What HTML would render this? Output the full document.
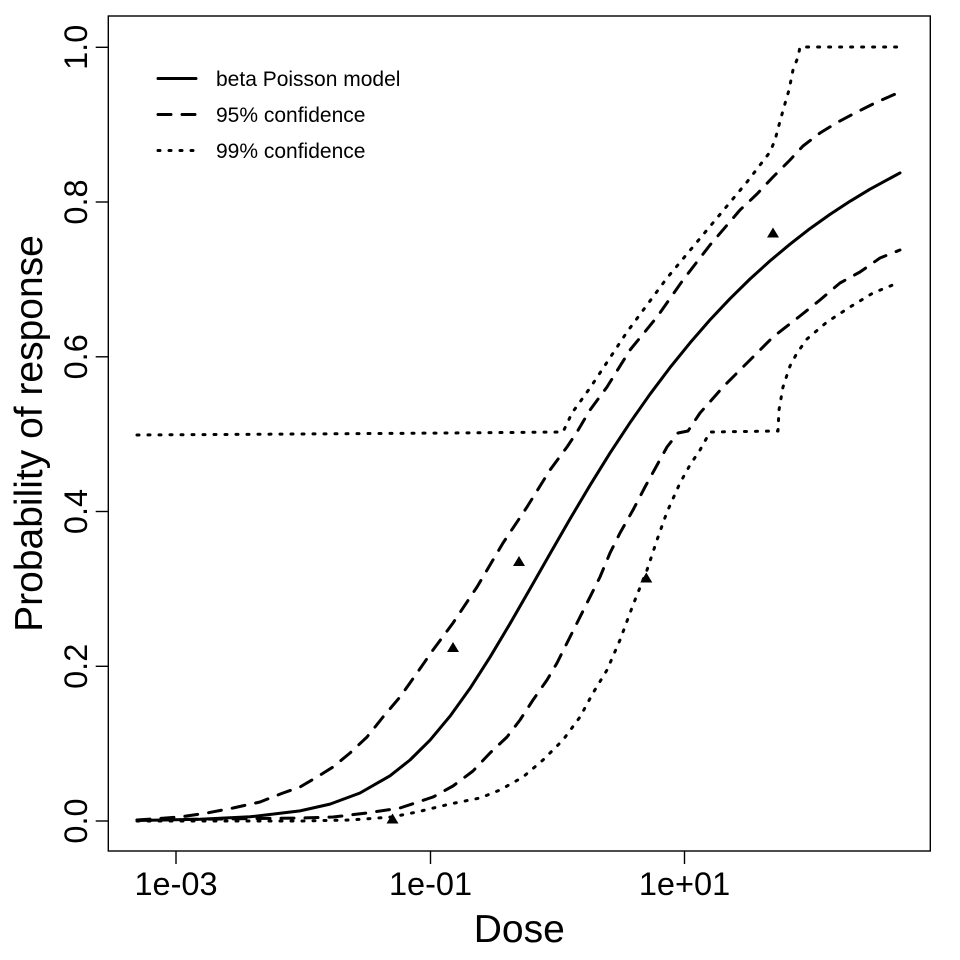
<!DOCTYPE html>
<html>
<head>
<meta charset="utf-8">
<style>
html,body{margin:0;padding:0;background:#fff;}
svg{display:block;}
text{font-family:"Liberation Sans", Arial, sans-serif;fill:#000;}
</style>
</head>
<body>
<svg width="960" height="960" viewBox="0 0 960 960" xmlns="http://www.w3.org/2000/svg">
<rect x="0" y="0" width="960" height="960" fill="#fff"/>
<!-- plot box -->
<rect x="108.3" y="16" width="822" height="835" fill="none" stroke="#000" stroke-width="1.4"/>

<!-- y ticks -->
<g stroke="#000" stroke-width="1.4">
<line x1="95.7" y1="821" x2="108.3" y2="821"/>
<line x1="95.7" y1="666.3" x2="108.3" y2="666.3"/>
<line x1="95.7" y1="511.5" x2="108.3" y2="511.5"/>
<line x1="95.7" y1="356.8" x2="108.3" y2="356.8"/>
<line x1="95.7" y1="202" x2="108.3" y2="202"/>
<line x1="95.7" y1="47.3" x2="108.3" y2="47.3"/>
<!-- x ticks -->
<line x1="176" y1="851" x2="176" y2="864"/>
<line x1="430.5" y1="851" x2="430.5" y2="864"/>
<line x1="684.5" y1="851" x2="684.5" y2="864"/>
</g>

<!-- y tick labels -->
<g font-size="32.5" text-anchor="middle">
<text transform="translate(87,821) rotate(-90)">0.0</text>
<text transform="translate(87,666.3) rotate(-90)">0.2</text>
<text transform="translate(87,511.5) rotate(-90)">0.4</text>
<text transform="translate(87,356.8) rotate(-90)">0.6</text>
<text transform="translate(87,202) rotate(-90)">0.8</text>
<text transform="translate(87,47.3) rotate(-90)">1.0</text>
</g>
<!-- x tick labels -->
<g font-size="32.5" text-anchor="middle">
<text x="176" y="895">1e-03</text>
<text x="430.5" y="895">1e-01</text>
<text x="684.5" y="895">1e+01</text>
</g>

<!-- axis titles -->
<text x="519.3" y="942" font-size="39" text-anchor="middle">Dose</text>
<text transform="translate(42,433.5) rotate(-90)" font-size="39" text-anchor="middle">Probability of response</text>

<!-- solid beta Poisson curve -->
<polyline fill="none" stroke="#000" stroke-width="3" stroke-linejoin="round" stroke-linecap="round"
points="137,820.5 200,819.3 250,816.8 300,810.9 330,804.1 360,793 390,775.8 410,760 430,740.2 450,716.2 470,688.4 490,657.2 510,623.7 530,588.9 550,553.7 570,519 590,485.3 610,453.1 630,422.7 650,394.2 670,367.6 690,342.9 710,319.9 730,298.7 750,279 770,260.9 790,244.2 810,228.6 830,214.4 850,201.3 870,189.2 900,172.9"/>

<!-- upper 95% dashed -->
<polyline fill="none" stroke="#000" stroke-width="3" stroke-linejoin="round" stroke-linecap="round" stroke-dasharray="13 11"
points="137,820 180,817 207,813 233,808 260,802 283,793 300,787 317,777 333,767 350,753 367,737 383,717 400,697 417,673 433,650 453,623 477,587 503,543 527,507 550,470 567,447 577,432 590,410 607,387 630,350 657,317 683,280 710,245 740,210 757,194 773,177 790,160 803,146 820,133 838,122 857,112 877,102 900,92"/>

<!-- lower 95% dashed -->
<polyline fill="none" stroke="#000" stroke-width="3" stroke-linejoin="round" stroke-linecap="round" stroke-dasharray="13 11"
points="137,820 300,818 333,817 367,813 400,808 433,797 453,786 473,771 490,753 507,737 520,720 533,700 547,680 557,663 567,643 577,623 587,603 600,577 610,553 620,533 633,510 645,487 667,447 678,433 688,431 700,413 723,387 747,363 773,337 800,316 820,300 840,283 860,272 880,258 900,250"/>

<!-- upper 99% dotted -->
<polyline fill="none" stroke="#000" stroke-width="3" stroke-linejoin="round" stroke-linecap="round" stroke-dasharray="2 9"
points="137,435 300,434 450,433 563,432 572,413 590,388 627,332 667,278 707,230 747,182 770,152 775,140 779,125 784,107 789,90 793,70 798,57 800,47 900,47"/>

<!-- lower 99% dotted -->
<polyline fill="none" stroke="#000" stroke-width="3" stroke-linejoin="round" stroke-linecap="round" stroke-dasharray="2 9"
points="137,821 300,821 350,820 392,817 417,812 450,804 480,798 500,790 523,777 543,760 563,740 580,717 593,693 607,670 620,640 633,605 647,570 657,540 667,512 680,483 690,465 700,450 710,432 778,431 779,410 783,387 790,366 797,353 807,339 827,322 850,307 873,293 900,282"/>

<!-- data points (filled triangles) -->
<g fill="#000">
<polygon points="392.5,813.5 398.5,823.5 386.5,823.5"/>
<polygon points="453,642 459,652 447,652"/>
<polygon points="519,556 525,566 513,566"/>
<polygon points="646.3,572.5 652.3,582.5 640.3,582.5"/>
<polygon points="773,227.5 779,237.5 767,237.5"/>
</g>

<!-- legend -->
<g stroke="#000" stroke-width="3" stroke-linecap="round" fill="none">
<line x1="158" y1="78.5" x2="196" y2="78.5"/>
<line x1="158" y1="114.5" x2="196" y2="114.5" stroke-dasharray="13 11"/>
<line x1="158" y1="150.5" x2="196" y2="150.5" stroke-dasharray="2 9"/>
</g>
<g font-size="21">
<text x="216" y="86">beta Poisson model</text>
<text x="216" y="122">95% confidence</text>
<text x="216" y="158">99% confidence</text>
</g>
</svg>
</body>
</html>
